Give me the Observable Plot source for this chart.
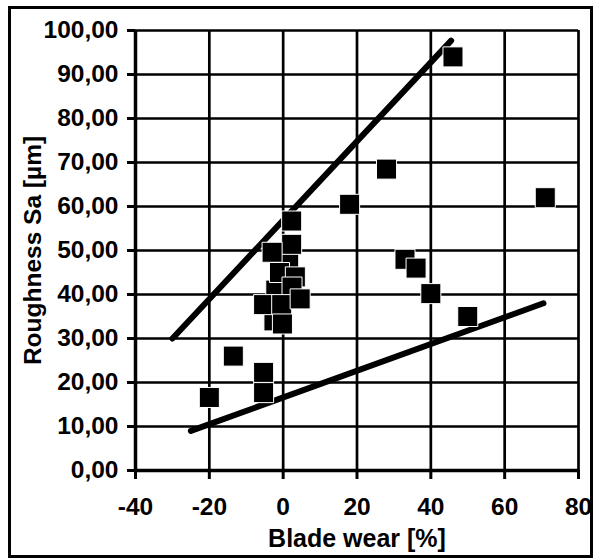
<!DOCTYPE html>
<html>
<head>
<meta charset="utf-8">
<script src="https://cdn.jsdelivr.net/npm/d3@7"></script>
<script src="https://cdn.jsdelivr.net/npm/@observablehq/plot@0.6"></script>
<style>
  html, body { margin: 0; padding: 0; background: white; }
  #wrap { position: relative; width: 596px; height: 560px; }
  #border { position: absolute; left: 8px; top: 6px; width: 579px; height: 546px; border: 3px solid black; pointer-events: none; }
</style>
</head>
<body>
<div id="wrap"><div id="border"></div></div>
<script>
// Data
const bladeWear = [1.5, -2, -2.5, 46, 28, 18, 71, 2.3, 2.3, -3, 33, 36, 40, 50, -20, -13.5, -5.3, -5.3, -1, 3.3, 2.4, -5.3, -0.4, -0.2, 4.6];
const roughness = [47.5, 41, 34, 94, 68.5, 60.5, 62, 56.7, 51.4, 49.6, 48, 46, 40.2, 35, 16.6, 26, 22.3, 17.7, 45, 44, 41.7, 37.7, 37.7, 33.3, 39];

const upperLineX = [-30, 45.5];
const upperLineY = [30, 97.7];
const lowerLineX = [-25, 70.5];
const lowerLineY = [9, 38];

const xTicks = [-40, -20, 0, 20, 40, 60, 80];
const yTicks = [0, 10, 20, 30, 40, 50, 60, 70, 80, 90, 100];

const points = bladeWear.map((x, i) => ({x, y: roughness[i]}));
const upper = upperLineX.map((x, i) => ({x, y: upperLineY[i]}));
const lower = lowerLineX.map((x, i) => ({x, y: lowerLineY[i]}));

const chart = Plot.plot({
  width: 596,
  height: 560,
  marginLeft: 135,
  marginRight: 18,
  marginTop: 30,
  marginBottom: 90,
  x: {domain: [-40, 80]},
  y: {domain: [0, 100]},
  style: {fontFamily: "'Liberation Sans', Arial, sans-serif", fontWeight: "bold", fontSize: "24px", color: "black", background: "transparent"},
  marks: [
    Plot.gridX(xTicks, {stroke: "black", strokeOpacity: 1, strokeWidth: 2.7}),
    Plot.gridY(yTicks, {stroke: "black", strokeOpacity: 1, strokeWidth: 2.7}),
    Plot.axisX({ticks: xTicks, tickSize: 9, tickPadding: 18, strokeWidth: 3, tickFormat: d => String(d),
      label: null, fontSize: 24.5}),
    Plot.axisY({ticks: yTicks, tickSize: 8, tickPadding: 9, strokeWidth: 3, tickFormat: d => d.toFixed(2).replace(".", ","),
      label: null, fontSize: 24.5}),
    Plot.axisX({ticks: [], tickSize: 0, label: "Blade wear [%]", labelAnchor: "center", labelOffset: 76, labelArrow: "none", fontSize: 25}),
    Plot.axisY({ticks: [], tickSize: 0, label: "Roughness Sa [µm]", labelAnchor: "center", labelOffset: 112, labelArrow: "none", fontSize: 24.5}),
    Plot.ruleX([-40], {strokeWidth: 3.5}),
    Plot.ruleY([0], {strokeWidth: 3.5}),
    Plot.line(upper, {x: "x", y: "y", stroke: "black", strokeWidth: 6, strokeLinecap: "round"}),
    Plot.line(lower, {x: "x", y: "y", stroke: "black", strokeWidth: 6, strokeLinecap: "round"}),
    Plot.dot(points, {x: "x", y: "y", symbol: "square", r: 11.3, fill: "black", stroke: "white", strokeWidth: 1})
  ]
});
document.getElementById("wrap").prepend(chart);
</script>
</body>
</html>
